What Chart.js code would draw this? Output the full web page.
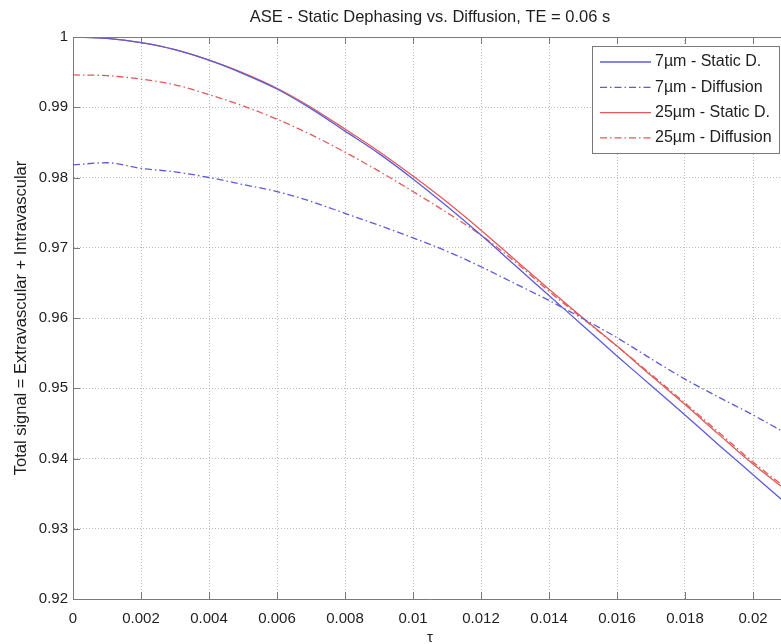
<!DOCTYPE html>
<html>
<head>
<meta charset="utf-8">
<title>ASE - Static Dephasing vs. Diffusion</title>
<script src="https://cdn.jsdelivr.net/npm/chart.js@4.4.1/dist/chart.umd.min.js"></script>
<style>
    html, body { margin: 0; padding: 0; background: #fff; overflow: hidden; }
    #wrap { position: relative; width: 800px; height: 644px; }
</style>
</head>
<body>
<div id="wrap"><canvas id="myChartCanvas"></canvas></div>
<script>
// tau values (s)
const tau = [0, 0.001, 0.002, 0.003, 0.004, 0.005, 0.006, 0.007, 0.008, 0.009, 0.010,
             0.011, 0.012, 0.013, 0.014, 0.015, 0.016, 0.017, 0.018, 0.019, 0.020, 0.021];

// total signal, one array per vessel radius / model
const static7 = [1.0000, 0.9998, 0.9992, 0.9982, 0.9967, 0.9948, 0.9926, 0.9898, 0.9866, 0.9834, 0.9798,
                 0.9759, 0.9718, 0.9675, 0.9632, 0.9589, 0.9546, 0.9504, 0.9462, 0.9419, 0.9377, 0.9335];
const diffusion7 = [0.9818, 0.9821, 0.9813, 0.9808, 0.9800, 0.9790, 0.9780, 0.9766, 0.9749, 0.9732, 0.9714,
                    0.9695, 0.9673, 0.9649, 0.9625, 0.9599, 0.9572, 0.9542, 0.9513, 0.9487, 0.9462, 0.9435];
const static25 = [1.0000, 0.9998, 0.9992, 0.9982, 0.9967, 0.9949, 0.9927, 0.9900, 0.9869, 0.9837, 0.9802,
                  0.9765, 0.9725, 0.9683, 0.9641, 0.9600, 0.9560, 0.9518, 0.9477, 0.9434, 0.9392, 0.9354];
const diffusion25 = [0.9946, 0.9945, 0.9940, 0.9932, 0.9918, 0.9902, 0.9883, 0.9861, 0.9836, 0.9809, 0.9780,
                     0.9750, 0.9718, 0.9680, 0.9638, 0.9599, 0.9560, 0.9520, 0.9479, 0.9437, 0.9395, 0.9357];

const seriesLabels = ['7µm - Static D.', '7µm - Diffusion', '25µm - Static D.', '25µm - Diffusion'];

const xTicks = [0, 0.002, 0.004, 0.006, 0.008, 0.01, 0.012, 0.014, 0.016, 0.018, 0.02];
const yTicks = [0.92, 0.93, 0.94, 0.95, 0.96, 0.97, 0.98, 0.99, 1];

const blue = '#5c5cd8';
const red = '#e05a5a';
const dashDot = [7, 3, 1.5, 3];
const axisColor = '#7a7a7a';
const textColor = '#1e1e1e';
const fontFamily = '"Liberation Sans", Arial, Helvetica, sans-serif';

function toPoints(ys) {
    return tau.map((t, i) => ({ x: t, y: ys[i] }));
}

function makeDataset(label, ys, color, dash) {
    return {
        label: label,
        data: toPoints(ys),
        borderColor: color,
        backgroundColor: color,
        borderWidth: 1.3,
        borderDash: dash,
        pointRadius: 0,
        cubicInterpolationMode: 'monotone',
        fill: false
    };
}

// box round the axes with inward ticks, like a matlab figure
const axesBox = {
    id: 'axesBox',
    afterDraw(chart) {
        const { ctx, chartArea: a, scales } = chart;
        const len = 7;
        ctx.save();
        ctx.strokeStyle = axisColor;
        ctx.lineWidth = 1;
        ctx.beginPath();
        ctx.moveTo(a.left, a.top + 0.5);
        ctx.lineTo(a.right, a.top + 0.5);
        xTicks.forEach(v => {
            const px = Math.round(scales.x.getPixelForValue(v)) + 0.5;
            ctx.moveTo(px, a.bottom);
            ctx.lineTo(px, a.bottom - len);
            ctx.moveTo(px, a.top);
            ctx.lineTo(px, a.top + len);
        });
        yTicks.forEach(v => {
            const py = Math.round(scales.y.getPixelForValue(v)) + 0.5;
            ctx.moveTo(a.left, py);
            ctx.lineTo(a.left + len, py);
        });
        ctx.stroke();
        ctx.restore();
    }
};

// legend box in the top right corner of the axes
const insetLegend = {
    id: 'insetLegend',
    afterDraw(chart) {
        const { ctx, chartArea: a } = chart;
        const w = 187, h = 107;
        const left = a.right - 8 - w;
        const top = a.top + 9;
        ctx.save();
        ctx.fillStyle = '#fff';
        ctx.fillRect(left, top, w, h);
        ctx.strokeStyle = axisColor;
        ctx.lineWidth = 1;
        ctx.strokeRect(left + 0.5, top + 0.5, w, h);
        ctx.font = '16px ' + fontFamily;
        ctx.textBaseline = 'middle';
        ctx.textAlign = 'left';
        chart.data.datasets.forEach((ds, i) => {
            const y = top + 16 + i * 25.3;
            ctx.strokeStyle = ds.borderColor;
            ctx.lineWidth = ds.borderWidth;
            ctx.setLineDash(ds.borderDash || []);
            ctx.beginPath();
            ctx.moveTo(left + 8, y);
            ctx.lineTo(left + 59, y);
            ctx.stroke();
            ctx.setLineDash([]);
            ctx.fillStyle = textColor;
            ctx.fillText(ds.label, left + 63, y);
        });
        ctx.restore();
    }
};

const dados = {
    datasets: [
        makeDataset(seriesLabels[0], static7, blue, []),
        makeDataset(seriesLabels[1], diffusion7, blue, dashDot),
        makeDataset(seriesLabels[2], static25, red, []),
        makeDataset(seriesLabels[3], diffusion25, red, dashDot)
    ]
};

const config = {
    type: 'line',
    data: dados,
    plugins: [axesBox, insetLegend],
    options: {
        responsive: true,
        maintainAspectRatio: false,
        animation: false,
        layout: { padding: { left: 0, right: 13, top: 0, bottom: 0 } },
        scales: {
            x: {
                type: 'linear',
                min: 0,
                max: 0.021,
                afterFit: (scale) => { scale.height = 45; },
                afterBuildTicks: (scale) => { scale.ticks = xTicks.map(v => ({ value: v })); },
                ticks: {
                    includeBounds: false,
                    autoSkip: false,
                    maxRotation: 0,
                    padding: 11,
                    color: textColor,
                    font: { family: fontFamily, size: 15 },
                    callback: (v) => String(v)
                },
                grid: { color: 'rgba(140,140,140,0.6)', drawTicks: false },
                border: { display: true, color: axisColor, dash: [1, 2] },
                title: {
                    display: true,
                    text: 'τ',
                    color: textColor,
                    font: { family: fontFamily, size: 15, lineHeight: 1 },
                    padding: { top: 0, bottom: -1 }
                }
            },
            y: {
                type: 'linear',
                min: 0.92,
                max: 1,
                afterFit: (scale) => { scale.width = 73; },
                afterBuildTicks: (scale) => { scale.ticks = yTicks.map(v => ({ value: v })); },
                ticks: {
                    autoSkip: false,
                    padding: 5,
                    color: textColor,
                    font: { family: fontFamily, size: 15 },
                    callback: (v) => String(v)
                },
                grid: { color: 'rgba(140,140,140,0.6)', drawTicks: false },
                border: { display: true, color: axisColor, dash: [1, 2] },
                title: {
                    display: true,
                    text: 'Total signal = Extravascular + Intravascular',
                    color: textColor,
                    font: { family: fontFamily, size: 16.5, lineHeight: 1.2 },
                    padding: { top: 12, bottom: 0 }
                }
            }
        },
        plugins: {
            legend: { display: false },
            tooltip: { enabled: false },
            title: {
                display: true,
                fullSize: false,
                text: 'ASE - Static Dephasing vs. Diffusion, TE = 0.06 s',
                color: textColor,
                font: { family: fontFamily, size: 16.5, weight: 'normal', lineHeight: 1.2 },
                padding: { top: 8, bottom: 9.2 }
            }
        }
    }
};

new Chart(document.getElementById('myChartCanvas'), config);
</script>
</body>
</html>
